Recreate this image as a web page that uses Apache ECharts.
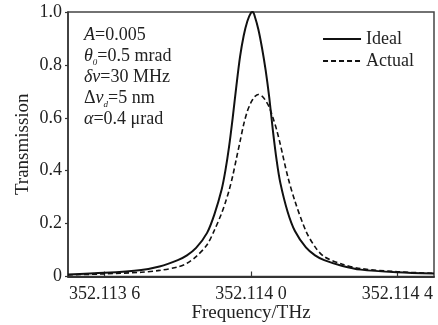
<!DOCTYPE html>
<html>
<head>
<meta charset="utf-8">
<script src="https://cdn.jsdelivr.net/npm/echarts@6/dist/echarts.min.js"></script>
<style>
  html, body { margin: 0; padding: 0; background: #fff; }
  #chart { width: 438px; height: 325px; }
</style>
</head>
<body>
<div id="chart"></div>
<script>
// frequency samples, THz
const freq = [
  352.1135, 352.1136, 352.1137, 352.11375, 352.1138, 352.113825, 352.11385,
  352.11388, 352.1139, 352.11392, 352.11393, 352.11394, 352.11395, 352.11396,
  352.11397, 352.11398, 352.11399, 352.114, 352.114005, 352.11401, 352.11402,
  352.11403, 352.11404, 352.11405, 352.11406, 352.11407, 352.11408, 352.1141,
  352.11412, 352.11415, 352.114175, 352.1142, 352.11425, 352.1143, 352.1144,
  352.1145
]
const ideal = [
  0.008, 0.014, 0.025, 0.038, 0.062, 0.08, 0.108,
  0.165, 0.235, 0.33, 0.4, 0.49, 0.6, 0.72,
  0.83, 0.91, 0.965, 0.997, 1.0, 0.985, 0.935,
  0.865, 0.78, 0.675, 0.55, 0.44, 0.355, 0.245,
  0.172, 0.11, 0.08, 0.062, 0.04, 0.026, 0.016,
  0.011
]
const actual = [
  0.006, 0.01, 0.016, 0.023, 0.036, 0.05, 0.075,
  0.12, 0.175, 0.24, 0.28, 0.325, 0.38, 0.445,
  0.51, 0.575, 0.625, 0.658, 0.67, 0.68, 0.688,
  0.682, 0.665, 0.64, 0.6, 0.555, 0.5, 0.38,
  0.285, 0.172, 0.112, 0.075, 0.046, 0.03, 0.018,
  0.012
]
const xTickValues = [352.1136, 352.114, 352.1144]
const xTickLabels = ['352.113 6', '352.114 0', '352.114 4']
const yTickLabels = ['0', '0.2', '0.4', '0.6', '0.8', '1.0']

const FONT = '"Liberation Serif", "DejaVu Serif", serif'
const INK = '#222'

const chart = echarts.init(document.getElementById('chart'), null, { renderer: 'canvas' })

chart.setOption({
  backgroundColor: '#fff',
  animation: false,
  textStyle: { fontFamily: FONT },
  grid: {
    left: 68, right: 4, top: 12, bottom: 48.5,
    outerBoundsMode: 'none', containLabel: false,
    show: true, borderColor: '#444', borderWidth: 1.5, backgroundColor: 'transparent'
  },
  title: {
    left: 84, top: 25, padding: 0,
    text: [
      '{i|A}{n|=0.005}',
      '{i|θ}{s|0}{n|=0.5 mrad}',
      '{i|δν}{n|=30 MHz}',
      '{n|Δ}{i|ν}{s|d}{n|=5 nm}',
      '{i|α}{n|=0.4 μrad}'
    ].join('\n'),
    textStyle: {
      fontFamily: FONT, fontSize: 18, fontWeight: 'normal', color: INK, lineHeight: 21,
      rich: {
        i: { fontFamily: FONT, fontSize: 18, fontStyle: 'italic', color: INK, lineHeight: 21 },
        n: { fontFamily: FONT, fontSize: 18, color: INK, lineHeight: 21 },
        s: { fontFamily: FONT, fontSize: 9, fontStyle: 'italic', color: INK, lineHeight: 21, verticalAlign: 'bottom', padding: [7, 0, 0, 0] }
      }
    }
  },
  legend: {
    orient: 'vertical', right: 19, top: 25,
    itemWidth: 38, itemHeight: 14, itemGap: 4,
    itemStyle: { opacity: 0 },
    textStyle: { fontFamily: FONT, fontSize: 18, color: INK },
    data: ['Ideal', 'Actual']
  },
  xAxis: {
    type: 'value', min: 352.1135, max: 352.1145,
    name: 'Frequency/THz', nameLocation: 'middle', nameGap: 27, nameMoveOverlap: false,
    nameTextStyle: { fontFamily: FONT, fontSize: 19, color: INK },
    axisLine: { show: true, onZero: false, lineStyle: { color: '#333', width: 2 } },
    axisTick: { show: true, inside: true, length: 5, customValues: xTickValues, lineStyle: { color: '#333', width: 1.2 } },
    axisLabel: {
      customValues: xTickValues, margin: 9, fontFamily: FONT, fontSize: 18, color: INK,
      formatter: (v) => {
        let k = 0
        xTickValues.forEach((t, i) => { if (Math.abs(t - v) < Math.abs(xTickValues[k] - v)) k = i })
        return xTickLabels[k]
      }
    },
    splitLine: { show: false }
  },
  yAxis: {
    type: 'value', min: 0, max: 1, interval: 0.2,
    name: 'Transmission', nameLocation: 'middle', nameGap: 35, nameMoveOverlap: false,
    nameTextStyle: { fontFamily: FONT, fontSize: 19, color: INK },
    axisLine: { show: true, lineStyle: { color: '#333', width: 1.5 } },
    axisTick: { show: true, length: 3, lineStyle: { color: '#333', width: 1.2 } },
    axisLabel: {
      margin: 6, fontFamily: FONT, fontSize: 18, color: INK,
      formatter: (v) => yTickLabels[Math.round(v / 0.2)]
    },
    splitLine: { show: false }
  },
  series: [
    {
      name: 'Ideal', type: 'line', smooth: 0.3, symbol: 'none',
      data: freq.map((f, i) => [f, ideal[i]]),
      lineStyle: { color: '#111', width: 2 },
      itemStyle: { color: '#111' }
    },
    {
      name: 'Actual', type: 'line', smooth: 0.3, symbol: 'none',
      data: freq.map((f, i) => [f, actual[i]]),
      lineStyle: { color: '#111', width: 1.6, type: [5, 3] },
      itemStyle: { color: '#111' }
    }
  ]
})
</script>
</body>
</html>
